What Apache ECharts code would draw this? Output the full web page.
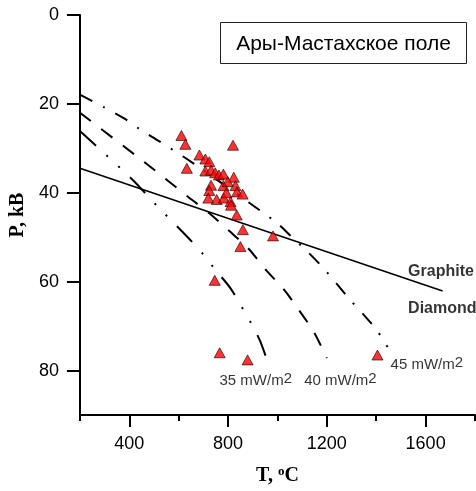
<!DOCTYPE html>
<html>
<head>
<meta charset="utf-8">
<script src="https://cdn.jsdelivr.net/npm/echarts@6/dist/echarts.min.js"></script>
<style>
html, body { margin: 0; padding: 0; background: #fff; }
#main { width: 476px; height: 491px; }
</style>
</head>
<body>
<div id="main"></div>
<script>
// tick labels
var xTicks = [400, 800, 1200, 1600];
var xMinorTicks = [200, 600, 1000, 1400, 1800];
var yTicks = [0, 20, 40, 60, 80];

// samples: T (C), P (kB)
var sampleT = [611, 627, 684, 708, 724, 633, 708, 731, 748, 763, 781, 823, 820, 731, 781, 799, 830,
    724, 720, 754, 783, 793, 836, 859, 810, 812, 835, 860, 982, 850, 746, 766, 879, 1405];
var sampleP = [27.1, 29.1, 31.5, 32.4, 33.0, 34.5, 35.1, 34.9, 35.5, 36.0, 35.8, 36.5, 29.3, 38.3, 38.4, 37.5, 38.4,
    39.5, 41.2, 41.5, 41.2, 40.0, 39.8, 40.3, 42.0, 42.8, 45.0, 48.3, 49.7, 52.1, 59.7, 76.0, 77.6, 76.5];

// geotherms
var geo35T = [200, 410, 513, 645, 705, 748, 810, 870, 902, 930, 962];
var geo35P = [26.1, 36.9, 43.0, 50.5, 54.2, 57.3, 61.5, 67.1, 70.2, 73.4, 78.3];
var geo40T = [200, 498, 640, 724, 803, 883, 952, 1025, 1087, 1147, 1200];
var geo40P = [22.0, 34.7, 41.0, 44.6, 48.5, 52.6, 57.3, 61.7, 66.4, 71.3, 77.2];
var geo45T = [200, 299, 386, 442, 515, 655, 930, 998, 1061, 1121, 1180, 1236, 1291, 1347, 1402, 1446];
var geo45P = [17.9, 20.8, 23.5, 25.7, 28.2, 33.2, 44.0, 46.8, 50.1, 53.2, 56.6, 60.2, 63.9, 67.3, 70.9, 74.7];

// graphite - diamond
var gdT = [200, 1669];
var gdP = [34.5, 62.1];

// text labels
var labelText = ['35 mW/m{sup|2}', '40 mW/m{sup|2}', '45 mW/m{sup|2}', '{b|Graphite}', '{b|Diamond}'];
var labelT = [912, 1255, 1605, 1529, 1529];
var labelP = [82.3, 82.3, 78.7, 57.7, 66.0];

function zip(a, b) {
    return a.map(function (v, i) { return [v, b[i]]; });
}

var myChart = echarts.init(document.getElementById('main'));

var richText = {
    sup: { fontSize: 15, fontFamily: 'Liberation Sans', color: '#000', lineHeight: 19, verticalAlign: 'top' },
    b: { fontSize: 16, fontWeight: 'bold', fontFamily: 'Liberation Sans', color: '#000' }
};

var option = {
    animation: false,
    backgroundColor: '#fff',
    grid: { left: 73, top: 15, right: 1, bottom: 73, containLabel: false },
    xAxis: [
        {
            type: 'value',
            min: 200,
            max: 1800,
            interval: 200,
            position: 'bottom',
            name: 'T, {sup|o}C',
            nameLocation: 'middle',
            nameGap: 50,
            nameTextStyle: {
                fontFamily: 'Liberation Serif',
                fontWeight: 'bold',
                fontSize: 20,
                color: '#000',
                rich: {
                    sup: { fontFamily: 'Liberation Serif', fontWeight: 'bold', fontSize: 13, verticalAlign: 'top', lineHeight: 22 }
                }
            },
            axisLine: { onZero: false, lineStyle: { color: '#000', width: 2 } },
            axisTick: { customValues: xTicks, length: 12, lineStyle: { color: '#000', width: 2 } },
            axisLabel: {
                customValues: xTicks,
                margin: 20,
                fontSize: 18,
                fontFamily: 'Liberation Sans',
                color: '#000',
                formatter: function (v) { return String(v); }
            },
            splitLine: { show: false }
        },
        {
            // short ticks in between
            type: 'value',
            min: 200,
            max: 1800,
            interval: 200,
            position: 'bottom',
            axisLine: { show: false, onZero: false },
            axisTick: { customValues: xMinorTicks, length: 6, lineStyle: { color: '#000', width: 2 } },
            axisLabel: { show: false },
            splitLine: { show: false }
        }
    ],
    yAxis: {
        type: 'value',
        inverse: true,
        min: 0,
        max: 90,
        interval: 10,
        name: 'P, kB',
        nameLocation: 'middle',
        nameGap: 51,
        nameTextStyle: {
            fontFamily: 'Liberation Serif',
            fontWeight: 'bold',
            fontSize: 20,
            color: '#000'
        },
        axisLine: { onZero: false, lineStyle: { color: '#000', width: 2 } },
        axisTick: { customValues: yTicks, length: 13, lineStyle: { color: '#000', width: 2 } },
        axisLabel: {
            customValues: yTicks,
            margin: 21,
            fontSize: 18,
            fontFamily: 'Liberation Sans',
            color: '#000'
        },
        splitLine: { show: false }
    },
    graphic: [
        {
            type: 'rect',
            shape: { x: 220.5, y: 22.5, width: 246, height: 41 },
            style: { fill: '#fff', stroke: '#222', lineWidth: 1 },
            z: 100
        },
        {
            type: 'text',
            x: 343.5,
            y: 44,
            style: {
                text: 'Ары-Мастахское поле',
                fill: '#000',
                font: '21px "Liberation Sans"',
                align: 'center',
                verticalAlign: 'middle'
            },
            z: 101
        }
    ],
    series: [
        {
            name: 'Graphite-Diamond',
            type: 'line',
            data: zip(gdT, gdP),
            showSymbol: false,
            symbol: 'none',
            lineStyle: { color: '#000', width: 1.5 }
        },
        {
            name: '35',
            type: 'line',
            data: zip(geo35T, geo35P),
            smooth: 0.3,
            symbol: 'none',
            lineStyle: { color: '#000', width: 2, type: [22, 14, 2, 14, 2, 14] }
        },
        {
            name: '40',
            type: 'line',
            data: zip(geo40T, geo40P),
            smooth: 0.3,
            symbol: 'none',
            lineStyle: { color: '#000', width: 2, type: [14, 13] }
        },
        {
            name: '45',
            type: 'line',
            data: zip(geo45T, geo45P),
            smooth: 0.3,
            symbol: 'none',
            lineStyle: { color: '#000', width: 2, type: [14, 12, 2, 12] }
        },
        {
            name: 'samples',
            type: 'scatter',
            data: zip(sampleT, sampleP),
            symbol: 'triangle',
            symbolSize: [11, 10],
            itemStyle: { color: '#ff0000', borderColor: '#200000', borderWidth: 0.8 },
            z: 5
        },
        {
            name: 'labels',
            type: 'scatter',
            symbolSize: 0,
            silent: true,
            clip: false,
            data: labelText.map(function (t, i) {
                var isPhase = i >= 3;
                return {
                    value: [labelT[i], labelP[i]],
                    label: {
                        show: true,
                        formatter: t,
                        position: 'inside',
                        align: isPhase ? 'left' : 'center',
                        verticalAlign: 'middle',
                        fontSize: isPhase ? 16 : 15,
                        fontFamily: 'Liberation Sans',
                        color: '#000',
                        lineHeight: 19,
                        rich: richText
                    }
                };
            })
        }
    ]
};
myChart.setOption(option);
</script>
</body>
</html>
